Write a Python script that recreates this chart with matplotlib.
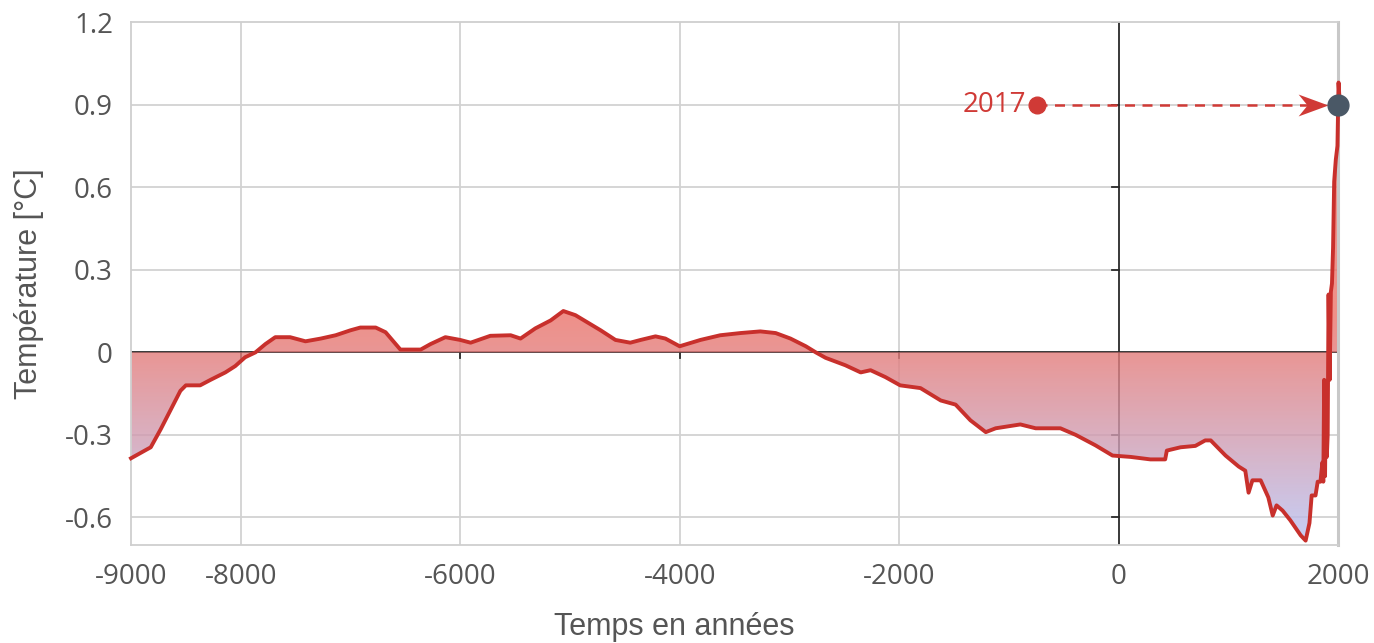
import numpy as np
import matplotlib
matplotlib.use("Agg")
import matplotlib.pyplot as plt
from matplotlib.colors import LinearSegmentedColormap
from matplotlib.path import Path

# ---- data ----
years = [-9000, -8870, -8820, -8730, -8640, -8550, -8500, -8370, -8275, -8140, -8050, -7960,
         -7865, -7775, -7685, -7550, -7410, -7270, -7135, -7000, -6910, -6770, -6680, -6545,
         -6360, -6270, -6135, -6000, -5905, -5725, -5540, -5450, -5315, -5175, -5060, -4950,
         -4720, -4585, -4450, -4355, -4220, -4130, -4000, -3810, -3630, -3445, -3265, -3125,
         -2990, -2850, -2760, -2670, -2490, -2350, -2260, -2125, -1990, -1805, -1620, -1485,
         -1350, -1210, -1120, -895, -755, -530, -390, -210, -55, 110, 290, 425, 440, 565,
         700, 790, 840, 975, 1095, 1155, 1185, 1220, 1295, 1365, 1405, 1440, 1495, 1565,
         1660, 1705, 1740, 1760, 1795, 1815, 1840, 1850, 1858, 1866, 1874, 1882, 1890,
         1898, 1906, 1914, 1924, 1935, 1945, 1955, 1965, 1980, 1995, 2005, 2017]
temps = [-0.385, -0.356, -0.345, -0.28, -0.21, -0.14, -0.12, -0.12, -0.10, -0.073, -0.05, -0.018,
         0.0, 0.03, 0.055, 0.055, 0.04, 0.05, 0.062, 0.08, 0.09, 0.09, 0.073, 0.01,
         0.01, 0.03, 0.055, 0.045, 0.035, 0.06, 0.062, 0.05, 0.087, 0.116, 0.15, 0.135,
         0.08, 0.045, 0.035, 0.045, 0.058, 0.05, 0.022, 0.045, 0.062, 0.07, 0.076, 0.07,
         0.05, 0.022, 0.0, -0.02, -0.047, -0.073, -0.065, -0.09, -0.12, -0.13, -0.175, -0.19,
         -0.247, -0.29, -0.276, -0.262, -0.276, -0.276, -0.30, -0.338, -0.375, -0.38, -0.389, -0.389, -0.357, -0.345,
         -0.34, -0.32, -0.32, -0.375, -0.415, -0.43, -0.51, -0.465, -0.465, -0.527, -0.593, -0.556, -0.575, -0.61,
         -0.665, -0.684, -0.62, -0.52, -0.52, -0.47, -0.47, -0.43, -0.40, -0.47, -0.10, -0.45, -0.12,
         -0.38, -0.30, 0.21, -0.10, 0.22, 0.25, 0.38, 0.62, 0.70, 0.75, 0.98, 0.90]

x_ticks = [-9000, -8000, -6000, -4000, -2000, 0, 2000]
x_tick_labels = ["-9000", "-8000", "-6000", "-4000", "-2000", "0", "2000"]
y_ticks = [-0.6, -0.3, 0, 0.3, 0.6, 0.9, 1.2]
y_tick_labels = ["-0.6", "-0.3", "0", "0.3", "0.6", "0.9", "1.2"]
highlight_year = 2017
highlight_value = 0.9
label_year = -740
label_text = "2017"

x = np.array(years, dtype=float)
y = np.array(temps, dtype=float)

fig = plt.figure(figsize=(13.74, 6.43), dpi=100)
ax = fig.add_axes([0.09534, 0.15241, 0.87846, 0.81337])
ax.set_xlim(-9000, 2000)
ax.set_ylim(-0.7, 1.2)

# grid
grid_c = "#d2d2d2"
for xv in x_ticks:
    if xv not in (-9000, 0, 2000):
        ax.axvline(xv, color=grid_c, lw=1.3, zorder=0)
for yv in y_ticks:
    if yv not in (0, 1.2):
        ax.axhline(yv, color=grid_c, lw=1.3, zorder=0)

for s in ["left", "top", "bottom"]:
    ax.spines[s].set_color("#cfcfcf")
    ax.spines[s].set_linewidth(1.3)
ax.spines["right"].set_color("#c8c8c8")
ax.spines["right"].set_linewidth(2.2)

# axis lines through origin
ax.axhline(0, color="#2a2a2a", lw=1.3, zorder=1)
ax.axvline(0, color="#2a2a2a", lw=1.3, zorder=1)
for xv in x_ticks:
    if xv not in (-9000, 0, 2000):
        ax.plot([xv, xv], [0, -0.022], color="#2a2a2a", lw=1.3, zorder=1)
for yv in y_ticks:
    if yv != 0:
        ax.plot([-60, 0], [yv, yv], color="#2a2a2a", lw=1.3, zorder=1)

# gradient fill clipped to area between curve and 0
poly = ax.fill_between(x, y, 0, facecolor="none", edgecolor="none")
cmap = LinearSegmentedColormap.from_list(
    "g", [(0.0, (184/255, 196/255, 246/255)),
          (0.7/1.9, (228/255, 124/255, 122/255)),
          (0.85/1.9, (236/255, 116/255, 106/255)),
          (1.0, (236/255, 116/255, 106/255))])
grad = np.linspace(0, 1, 400).reshape(-1, 1)
im = ax.imshow(grad, extent=[-9000, 2017, -0.7, 1.2], origin="lower",
               aspect="auto", cmap=cmap, alpha=0.8, zorder=2, interpolation="bilinear")
path = poly.get_paths()[0]
im.set_clip_path(path, transform=ax.transData)

# main line
ax.plot(x, y, color="#c8302c", lw=2.8, zorder=4, solid_joinstyle="round", clip_on=False)

# annotation
red = "#d03a36"
ax.plot([label_year, 1800], [highlight_value, highlight_value], color=red,
        lw=1.8, ls=(0, (4, 3)), zorder=5)
head = Path([(0, 0), (-1.5, 0.55), (-1.05, 0), (-1.5, -0.55), (0, 0)],
            [Path.MOVETO, Path.LINETO, Path.LINETO, Path.LINETO, Path.CLOSEPOLY])
ax.plot([1905], [highlight_value], marker=head, ms=43, color=red, mew=0, zorder=5)
ax.plot([label_year], [highlight_value], "o", color=red, ms=12, zorder=6)
ax.plot([highlight_year - 17], [highlight_value], "o", color="#4a5866", ms=15,
        zorder=7, clip_on=False)
ax.text(label_year - 105, highlight_value, label_text, color=red, fontsize=20,
        ha="right", va="center", family="Open Sans", zorder=6)

# ticks
ax.set_xticks(x_ticks)
ax.set_xticklabels(x_tick_labels)
ax.set_yticks(y_ticks)
ax.set_yticklabels(y_tick_labels)
ax.tick_params(axis="both", length=0, labelsize=20, labelcolor="#555555")
ax.tick_params(axis="x", pad=13)
ax.tick_params(axis="y", pad=13)
for lab in ax.get_xticklabels() + ax.get_yticklabels():
    lab.set_family("Open Sans")

ax.set_xlabel("Temps en années", fontsize=22, color="#555555", family="Liberation Sans")
ax.set_ylabel("Température [°C]", fontsize=22, color="#555555", family="Liberation Sans")
ax.xaxis.set_label_coords(0.45, -0.128)
ax.yaxis.set_label_coords(-0.072, 0.5)

fig.savefig("out.png", dpi=100)
